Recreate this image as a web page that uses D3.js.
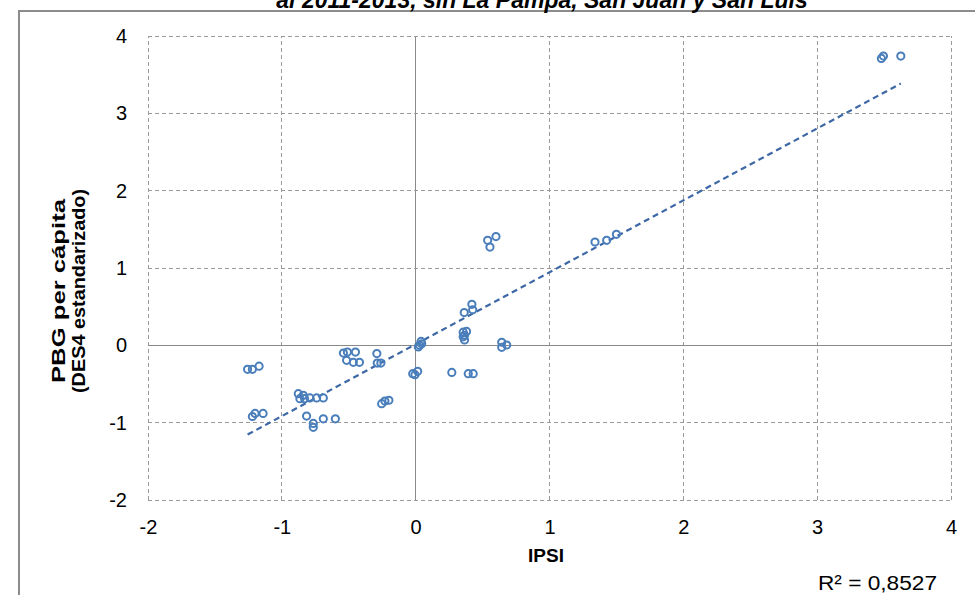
<!DOCTYPE html>
<html>
<head>
<meta charset="utf-8">
<script src="https://cdn.jsdelivr.net/npm/d3@7"></script>
<style>
body{margin:0;background:#fff;}
svg{display:block;font-family:"Liberation Sans",Arial,sans-serif;}
</style>
</head>
<body>
<svg id="chart" width="975" height="595"></svg>
<script>
const titleText = "al 2011-2013, sin La Pampa, San Juan y San Luis";
const xLabel = "IPSI";
const yLabel1 = "PBG per cápita";
const yLabel2 = "(DES4 estandarizado)";
const r2Text = "R² = 0,8527";
const xTicks = [-2,-1,0,1,2,3,4];
const yTicks = [-2,-1,0,1,2,3,4];
const xVals = [-1.256,-1.22,-1.17,-1.22,-1.20,-1.14,-0.877,-0.84,-0.865,-0.83,-0.79,-0.74,-0.69,-0.815,-0.765,-0.765,-0.69,-0.60,
  -0.54,-0.51,-0.45,-0.516,-0.466,-0.42,-0.29,-0.287,-0.26,-0.254,-0.23,-0.20,-0.022,-0.005,0.015,0.03,0.045,0.02,0.04,
  0.538,0.60,0.555,0.363,0.42,0.426,0.355,0.38,0.365,0.355,0.365,0.643,0.68,0.643,0.27,0.393,0.43,1.34,1.427,1.50,3.48,3.495,3.625];
const yVals = [-0.31,-0.31,-0.27,-0.92,-0.88,-0.88,-0.625,-0.647,-0.69,-0.69,-0.68,-0.68,-0.68,-0.915,-1.01,-1.06,-0.95,-0.95,
  -0.10,-0.087,-0.087,-0.194,-0.22,-0.22,-0.107,-0.23,-0.23,-0.755,-0.72,-0.71,-0.366,-0.38,-0.336,0.0,0.02,-0.02,0.05,
  1.358,1.406,1.27,0.423,0.53,0.46,0.17,0.18,0.13,0.11,0.07,0.04,0.004,-0.026,-0.35,-0.366,-0.366,1.336,1.358,1.436,3.71,3.74,3.74];
const trendSlope = 0.930;
const trendIntercept = 0.014;

const svg = d3.select("#chart");
const x = d3.scaleLinear().domain([-2,4]).range([148,951]);
const y = d3.scaleLinear().domain([-2,4]).range([500,36]);

// outer frame
svg.append("rect").attr("x",19).attr("y",11).attr("width",1000).attr("height",700)
  .attr("fill","none").attr("stroke","#8c8c8c").attr("stroke-width",2);

// title (cropped at top in the reference)
svg.append("text").attr("x",542).attr("y",8).attr("text-anchor","middle")
  .attr("font-size",23).attr("font-weight","bold").attr("font-style","italic")
  .attr("fill","#000").text(titleText);

// gridlines
const g = svg.append("g");
xTicks.forEach(t=>{
  g.append("line").attr("x1",x(t)).attr("x2",x(t)).attr("y1",y(-2)).attr("y2",y(4))
    .attr("stroke",t===0?"#8a8a8a":"#9a9a9a").attr("stroke-width",1)
    .attr("stroke-dasharray",t===0?null:"4,3").attr("shape-rendering","crispEdges");
});
yTicks.forEach(t=>{
  g.append("line").attr("y1",y(t)).attr("y2",y(t)).attr("x1",x(-2)).attr("x2",x(4))
    .attr("stroke",t===0?"#8a8a8a":"#9a9a9a").attr("stroke-width",1)
    .attr("stroke-dasharray",t===0?null:"4,3").attr("shape-rendering","crispEdges");
});

// tick labels via d3 axes (no lines)
const fmt = d => String(d);
const xAxis = svg.append("g").attr("transform",`translate(0,${y(-2)+17})`)
  .call(d3.axisBottom(x).tickValues(xTicks).tickSize(0).tickFormat(fmt));
xAxis.select(".domain").remove();
xAxis.selectAll("text").attr("font-size",20).attr("font-family","Liberation Sans, Arial").attr("fill","#000");

const yAxis = svg.append("g").attr("transform",`translate(${x(-2)-18},0)`)
  .call(d3.axisLeft(y).tickValues(yTicks).tickSize(0).tickFormat(fmt));
yAxis.select(".domain").remove();
yAxis.selectAll("text").attr("font-size",20).attr("font-family","Liberation Sans, Arial").attr("fill","#000");

// axis titles
svg.append("text").attr("x",546).attr("y",562).attr("text-anchor","middle")
  .attr("font-size",19).attr("font-weight","bold").attr("fill","#000").text(xLabel);
const yl = svg.append("g").attr("transform","translate(0,291) rotate(-90)");
yl.append("text").attr("x",0).attr("y",65).attr("text-anchor","middle")
  .attr("font-size",19).attr("font-weight","bold").attr("fill","#000")
  .attr("textLength",184).attr("lengthAdjust","spacingAndGlyphs").text(yLabel1);
yl.append("text").attr("x",0).attr("y",85).attr("text-anchor","middle")
  .attr("font-size",19).attr("font-weight","bold").attr("fill","#000")
  .attr("textLength",204).attr("lengthAdjust","spacingAndGlyphs").text(yLabel2);

// trendline
const xMin = d3.min(xVals), xMax = d3.max(xVals);
svg.append("line")
  .attr("x1",x(xMin)).attr("y1",y(trendSlope*xMin+trendIntercept))
  .attr("x2",x(xMax)).attr("y2",y(trendSlope*xMax+trendIntercept))
  .attr("stroke","#3d68a6").attr("stroke-width",2.2).attr("stroke-dasharray","6,4");

// points
const pts = xVals.map((v,i)=>({x:v,y:yVals[i]}));
svg.append("g").selectAll("circle").data(pts).join("circle")
  .attr("cx",d=>x(d.x)).attr("cy",d=>y(d.y)).attr("r",3.6)
  .attr("fill","none").attr("stroke","#4a7ebb").attr("stroke-width",2);

// R2
svg.append("text").attr("x",818).attr("y",590).attr("text-anchor","start")
  .attr("font-size",20).attr("fill","#000")
  .attr("textLength",119).attr("lengthAdjust","spacingAndGlyphs").text(r2Text);
</script>
</body>
</html>
